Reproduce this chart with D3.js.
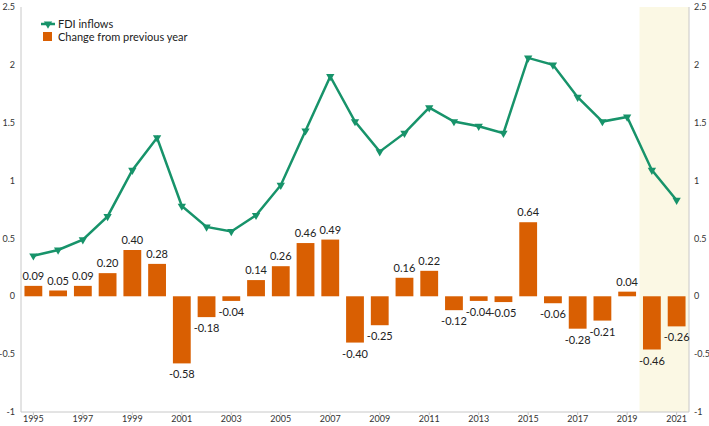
<!DOCTYPE html>
<html><head><meta charset="utf-8">
<script src="https://cdn.jsdelivr.net/npm/d3@7"></script>
<style>body{margin:0;background:#fff;} svg{display:block;}</style>
</head><body>
<svg id="c" width="709" height="426"></svg>
<script>
const years = d3.range(1995, 2022).map(String);
const fdiInflows = [0.35,0.40,0.49,0.69,1.09,1.37,0.78,0.60,0.56,0.70,0.96,1.43,1.90,1.51,1.25,1.41,1.63,1.51,1.47,1.41,2.06,2.00,1.72,1.51,1.55,1.09,0.83];
const changes = [0.09,0.05,0.09,0.20,0.40,0.28,-0.58,-0.18,-0.04,0.14,0.26,0.46,0.49,-0.40,-0.25,0.16,0.22,-0.12,-0.04,-0.05,0.64,-0.06,-0.28,-0.21,0.04,-0.46,-0.26];
const changeLabels = ["0.09","0.05","0.09","0.20","0.40","0.28","-0.58","-0.18","-0.04","0.14","0.26","0.46","0.49","-0.40","-0.25","0.16","0.22","-0.12","-0.04","-0.05","0.64","-0.06","-0.28","-0.21","0.04","-0.46","-0.26"];
const yTicks = [2.5,2,1.5,1,0.5,0,-0.5,-1];
const xTickYears = years.filter((d,i)=>i%2===0);
const highlightYears = ["2020","2021"];
const legendItems = ["FDI inflows","Change from previous year"];

const GREEN = "#17936a", ORANGE = "#d95f02";
const svg = d3.select("#c");
const L = 21, R = 689, T = 7, B = 412;
const font = "Lato, 'Open Sans', sans-serif";

const x = d3.scaleBand().domain(years).range([L, R]).paddingInner(0.28).paddingOuter(0.14);
const xb = d3.scaleBand().domain(years).range([L, R]);
const y = d3.scaleLinear().domain([-1, 2.5]).range([B, T]);

// highlight
svg.append("rect").attr("x", xb(highlightYears[0])).attr("y", T)
  .attr("width", xb(highlightYears[1]) + xb.bandwidth() - xb(highlightYears[0]))
  .attr("height", B - T).attr("fill", "#fbf8e4");

// axes lines
svg.append("line").attr("x1", L).attr("x2", L).attr("y1", T).attr("y2", B).attr("stroke", "#c8c8c8");
svg.append("line").attr("x1", R).attr("x2", R).attr("y1", T).attr("y2", B).attr("stroke", "#c8c8c8");
svg.append("line").attr("x1", L).attr("x2", R).attr("y1", B).attr("y2", B).attr("stroke", "#c8c8c8");

// y tick labels
const fmt = d => String(d);
svg.append("g").selectAll("text").data(yTicks).join("text")
  .attr("x", 15).attr("y", d => y(d)).attr("dy", "0.35em").attr("text-anchor", "end")
  .attr("font-family", font).attr("font-size", 9).attr("fill", "#333").text(fmt);
svg.append("g").selectAll("text").data(yTicks).join("text")
  .attr("x", 694).attr("y", d => y(d)).attr("dy", "0.35em").attr("text-anchor", "start")
  .attr("font-family", font).attr("font-size", 9).attr("fill", "#333").text(fmt);

// x ticks
svg.append("g").selectAll("line").data(xTickYears).join("line")
  .attr("x1", d => xb(d) + xb.bandwidth()/2).attr("x2", d => xb(d) + xb.bandwidth()/2)
  .attr("y1", B).attr("y2", B + 3).attr("stroke", "#c8c8c8");
svg.append("g").selectAll("text").data(xTickYears).join("text")
  .attr("x", d => xb(d) + xb.bandwidth()/2).attr("y", 422).attr("text-anchor", "middle")
  .attr("font-family", font).attr("font-size", 9).attr("fill", "#333").text(d => d);

// bars
svg.append("g").selectAll("rect").data(changes).join("rect")
  .attr("x", (d,i) => x(years[i])).attr("width", x.bandwidth())
  .attr("y", d => y(Math.max(0, d))).attr("height", d => Math.abs(y(d) - y(0)))
  .attr("fill", ORANGE);
svg.append("g").selectAll("text").data(changes).join("text")
  .attr("x", (d,i) => x(years[i]) + x.bandwidth()/2)
  .attr("y", d => d >= 0 ? y(d) - 6 : y(d) + 15)
  .attr("text-anchor", "middle").attr("font-family", font).attr("font-size", 11).attr("fill", "#222")
  .text((d,i) => changeLabels[i]);

// line
const cx = i => xb(years[i]) + xb.bandwidth()/2;
svg.append("path").datum(fdiInflows)
  .attr("d", d3.line().x((d,i) => cx(i)).y(d => y(d)))
  .attr("fill", "none").attr("stroke", GREEN).attr("stroke-width", 2.5);
const tri = d3.symbol().type(d3.symbolTriangle).size(30);
svg.append("g").selectAll("path").data(fdiInflows).join("path")
  .attr("d", tri).attr("transform", (d,i) => `translate(${cx(i)},${y(d)}) rotate(180)`)
  .attr("fill", GREEN);

// legend
const lg = svg.append("g");
lg.append("line").attr("x1", 41).attr("x2", 55).attr("y1", 24).attr("y2", 24).attr("stroke", GREEN).attr("stroke-width", 2.5);
lg.append("path").attr("d", tri).attr("transform", "translate(48,24) rotate(180)").attr("fill", GREEN);
lg.append("rect").attr("x", 43).attr("y", 32).attr("width", 9).attr("height", 9).attr("fill", ORANGE);
lg.selectAll("text").data(legendItems).join("text")
  .attr("x", 58).attr("y", (d,i) => 24 + i*13).attr("dy", "0.35em")
  .attr("font-family", font).attr("font-size", 11).attr("fill", "#222").text(d => d);
</script>
</body></html>
